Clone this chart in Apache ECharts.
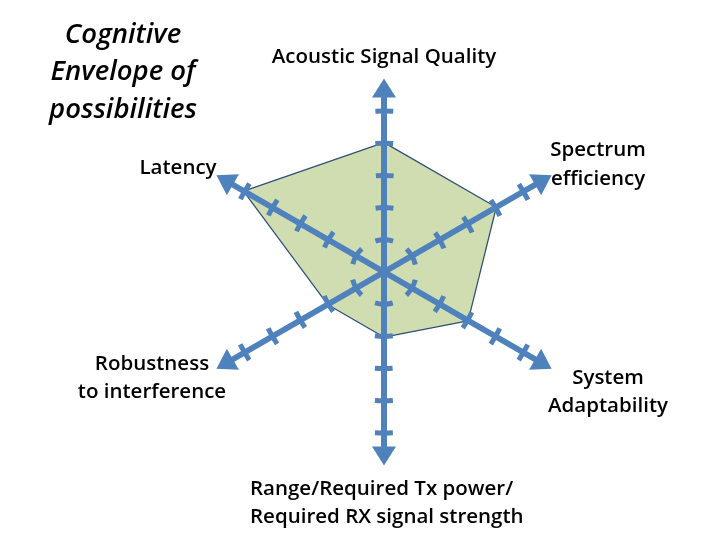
<!DOCTYPE html>
<html lang="en">
<head>
    <meta charset="UTF-8">
    <title>Cognitive Envelope</title>
    <script src="https://cdn.jsdelivr.net/npm/echarts@6/dist/echarts.min.js"></script>
</head>
<body style="margin:0">
<div id="chart" style="width:720px;height:540px"></div>
<script type="text/javascript">
    // axes go counter-clockwise from the top
    var axisNames = ['Acoustic Signal Quality', 'Latency', 'Robustness to interference',
        'Range/Required Tx power/ Required RX signal strength', 'System Adaptability', 'Spectrum efficiency'];
    var envelope = [4, 5, 2, 2, 3, 4];
    var tickValues = [1, 2, 3, 4, 5];
    var axisMax = 5;

    var blue = '#4F81BD';
    var font = '"Open Sans", sans-serif';
    var center = [384, 272];
    var unit = 32.2;      // px per step on every axis
    var barLen = 18;      // tick cross bar length

    function indicatorFor(max) {
        return axisNames.map(function (n) {
            return {name: n, min: 0, max: max};
        });
    }

    function plainRadar(r, max) {
        return {
            center: center,
            radius: r,
            startAngle: 90,
            splitNumber: 1,
            indicator: indicatorFor(max),
            z: 3,
            axisName: {show: false},
            axisLine: {show: false},
            axisTick: {show: false},
            axisLabel: {show: false},
            splitLine: {show: false},
            splitArea: {show: false}
        };
    }

    var radars = [];
    // 0: the radar the envelope sits on
    radars.push(plainRadar(axisMax * unit, axisMax));
    // 1: axis arrows
    var arrows = plainRadar(axisMax * unit + 23, axisMax);
    arrows.axisLine = {
        show: true,
        symbol: ['none', 'triangle'],
        symbolSize: [24, 19],
        lineStyle: {color: blue, width: 6}
    };
    radars.push(arrows);
    // tick cross bars: one dashed ring per tick, a dash across each axis
    tickValues.forEach(function (v) {
        var rr = plainRadar(v * unit, v);
        var period = Math.PI * v * unit / 3;
        rr.shape = 'circle';
        rr.splitLine = {
            show: true,
            lineStyle: {
                color: blue, width: 5,
                type: [barLen, period - barLen],
                dashOffset: barLen / 2 + period / 2
            }
        };
        radars.push(rr);
    });

    var label = '600 20.5px ' + font;

    var chart = echarts.init(document.getElementById('chart'));
    chart.setOption({
        backgroundColor: '#fff',
        radar: radars,
        series: [{
            type: 'radar',
            radarIndex: 0,
            z: 1,
            symbol: 'none',
            lineStyle: {color: '#2F4F78', width: 2.5},
            areaStyle: {color: '#D0DDB0', opacity: 1},
            data: [{value: envelope, name: 'Envelope'}]
        }],
        graphic: [
            {type: 'text', x: 123, y: 16, z: 10, style: {
                text: 'Cognitive\nEnvelope of\npossibilities', align: 'center', verticalAlign: 'top',
                font: 'italic 600 27.5px ' + font, lineHeight: 37.5, fill: '#000'}},
            {type: 'text', x: 384, y: 43, z: 10, style: {
                text: 'Acoustic Signal Quality', align: 'center', verticalAlign: 'top',
                font: label, lineHeight: 28, fill: '#000'}},
            {type: 'text', x: 598, y: 136, z: 10, style: {
                text: 'Spectrum\nefficiency', align: 'center', verticalAlign: 'top',
                font: label, lineHeight: 29, fill: '#000'}},
            {type: 'text', x: 178, y: 154, z: 10, style: {
                text: 'Latency', align: 'center', verticalAlign: 'top',
                font: label, lineHeight: 28, fill: '#000'}},
            {type: 'text', x: 152, y: 350, z: 10, style: {
                text: 'Robustness\nto interference', align: 'center', verticalAlign: 'top',
                font: label, lineHeight: 28, fill: '#000'}},
            {type: 'text', x: 608, y: 364, z: 10, style: {
                text: 'System\nAdaptability', align: 'center', verticalAlign: 'top',
                font: label, lineHeight: 28, fill: '#000'}},
            {type: 'text', x: 250, y: 475, z: 10, style: {
                text: 'Range/Required Tx power/\nRequired RX signal strength', align: 'left', verticalAlign: 'top',
                font: label, lineHeight: 28, fill: '#000'}}
        ]
    });
</script>
</body>
</html>
